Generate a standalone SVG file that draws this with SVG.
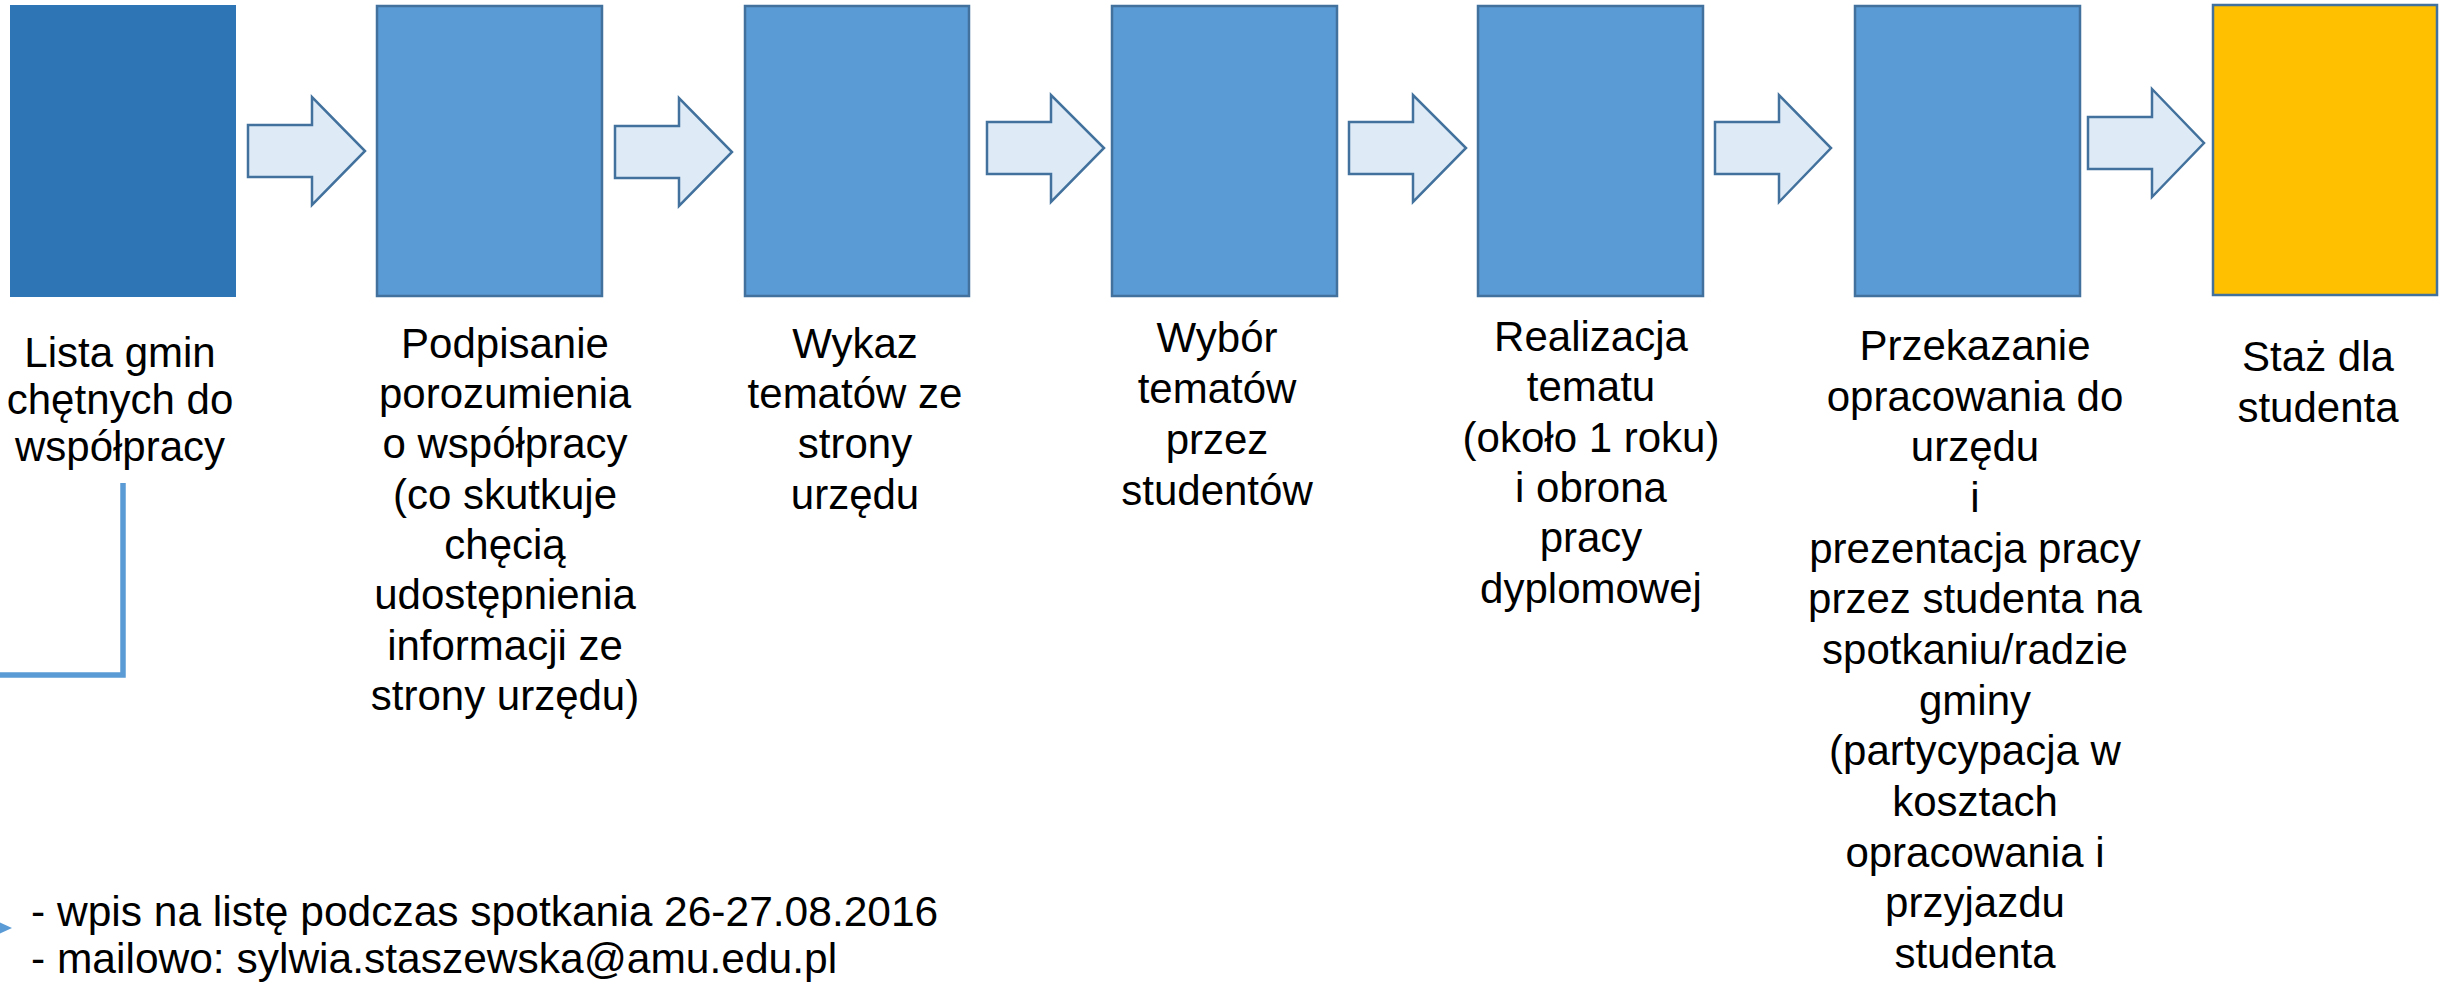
<svg xmlns="http://www.w3.org/2000/svg" width="2447" height="993" viewBox="0 0 2447 993">
<style>
.box{fill:#5B9BD5;stroke:#41719C;stroke-width:2.5}
.arr{fill:#DEEBF7;stroke:#41719C;stroke-width:2.5;stroke-linejoin:miter}
.lbl{font-family:"Liberation Sans",Arial,sans-serif;font-size:42px;fill:#000;text-anchor:middle}
.note{font-family:"Liberation Sans",Arial,sans-serif;font-size:42.5px;fill:#000}
.conn{fill:none;stroke:#5B9BD5;stroke-width:5.5}
.head{fill:#5B9BD5}
</style>
<rect width="2447" height="993" fill="#fff"/>

<g id="node1">
<rect x="10" y="5" width="226" height="292" fill="#2E75B6"/>
<text class="lbl"><tspan x="120" y="367">Lista gmin</tspan><tspan x="120" y="414">chętnych do</tspan><tspan x="120" y="461">współpracy</tspan></text>
</g>
<g id="node2">
<rect class="box" x="377" y="6" width="225" height="290"/>
<text class="lbl"><tspan x="505" y="358">Podpisanie</tspan><tspan x="505" y="408">porozumienia</tspan><tspan x="505" y="458">o współpracy</tspan><tspan x="505" y="509">(co skutkuje</tspan><tspan x="505" y="559">chęcią</tspan><tspan x="505" y="609">udostępnienia</tspan><tspan x="505" y="660">informacji ze</tspan><tspan x="505" y="710">strony urzędu)</tspan></text>
</g>
<g id="node3">
<rect class="box" x="745" y="6" width="224" height="290"/>
<text class="lbl"><tspan x="855" y="358">Wykaz</tspan><tspan x="855" y="408">tematów ze</tspan><tspan x="855" y="458">strony</tspan><tspan x="855" y="509">urzędu</tspan></text>
</g>
<g id="node4">
<rect class="box" x="1112" y="6" width="225" height="290"/>
<text class="lbl"><tspan x="1217" y="352">Wybór</tspan><tspan x="1217" y="403">tematów</tspan><tspan x="1217" y="454">przez</tspan><tspan x="1217" y="505">studentów</tspan></text>
</g>
<g id="node5">
<rect class="box" x="1478" y="6" width="225" height="290"/>
<text class="lbl"><tspan x="1591" y="351">Realizacja</tspan><tspan x="1591" y="401">tematu</tspan><tspan x="1591" y="452">(około 1 roku)</tspan><tspan x="1591" y="502">i obrona</tspan><tspan x="1591" y="552">pracy</tspan><tspan x="1591" y="603">dyplomowej</tspan></text>
</g>
<g id="node6">
<rect class="box" x="1855" y="6" width="225" height="290"/>
<text class="lbl"><tspan x="1975" y="360">Przekazanie</tspan><tspan x="1975" y="411">opracowania do</tspan><tspan x="1975" y="461">urzędu</tspan><tspan x="1975" y="512">i</tspan><tspan x="1975" y="563">prezentacja pracy</tspan><tspan x="1975" y="613">przez studenta na</tspan><tspan x="1975" y="664">spotkaniu/radzie</tspan><tspan x="1975" y="715">gminy</tspan><tspan x="1975" y="765">(partycypacja w</tspan><tspan x="1975" y="816">kosztach</tspan><tspan x="1975" y="867">opracowania i</tspan><tspan x="1975" y="917">przyjazdu</tspan><tspan x="1975" y="968">studenta</tspan></text>
</g>
<g id="node7">
<rect x="2213" y="5" width="224" height="290" fill="#FFC000" stroke="#41719C" stroke-width="2.5"/>
<text class="lbl"><tspan x="2318" y="371">Staż dla</tspan><tspan x="2318" y="422">studenta</tspan></text>
</g>
<g id="note">
<text class="note"><tspan x="31" y="926">- wpis na listę podczas spotkania 26-27.08.2016</tspan><tspan x="31" y="973">- mailowo: sylwia.staszewska@amu.edu.pl</tspan></text>
</g>

<g id="connectors">
<polygon class="arr" points="248,125 312,125 312,97 365,151 312,205 312,177 248,177"/>
<polygon class="arr" points="615,126 679,126 679,98 732,152 679,206 679,178 615,178"/>
<polygon class="arr" points="987,122 1051,122 1051,95 1104,148 1051,202 1051,174 987,174"/>
<polygon class="arr" points="1349,122 1413,122 1413,95 1466,148 1413,202 1413,174 1349,174"/>
<polygon class="arr" points="1715,122 1779,122 1779,95 1831,148 1779,202 1779,174 1715,174"/>
<polygon class="arr" points="2088,117 2152,117 2152,89 2204,143 2152,197 2152,169 2088,169"/>
<path class="conn" d="M123,483 V675 H-20 V928 H-4"/>
<polygon class="head" points="-8,919 12,928 -8,937"/>
</g>
</svg>
